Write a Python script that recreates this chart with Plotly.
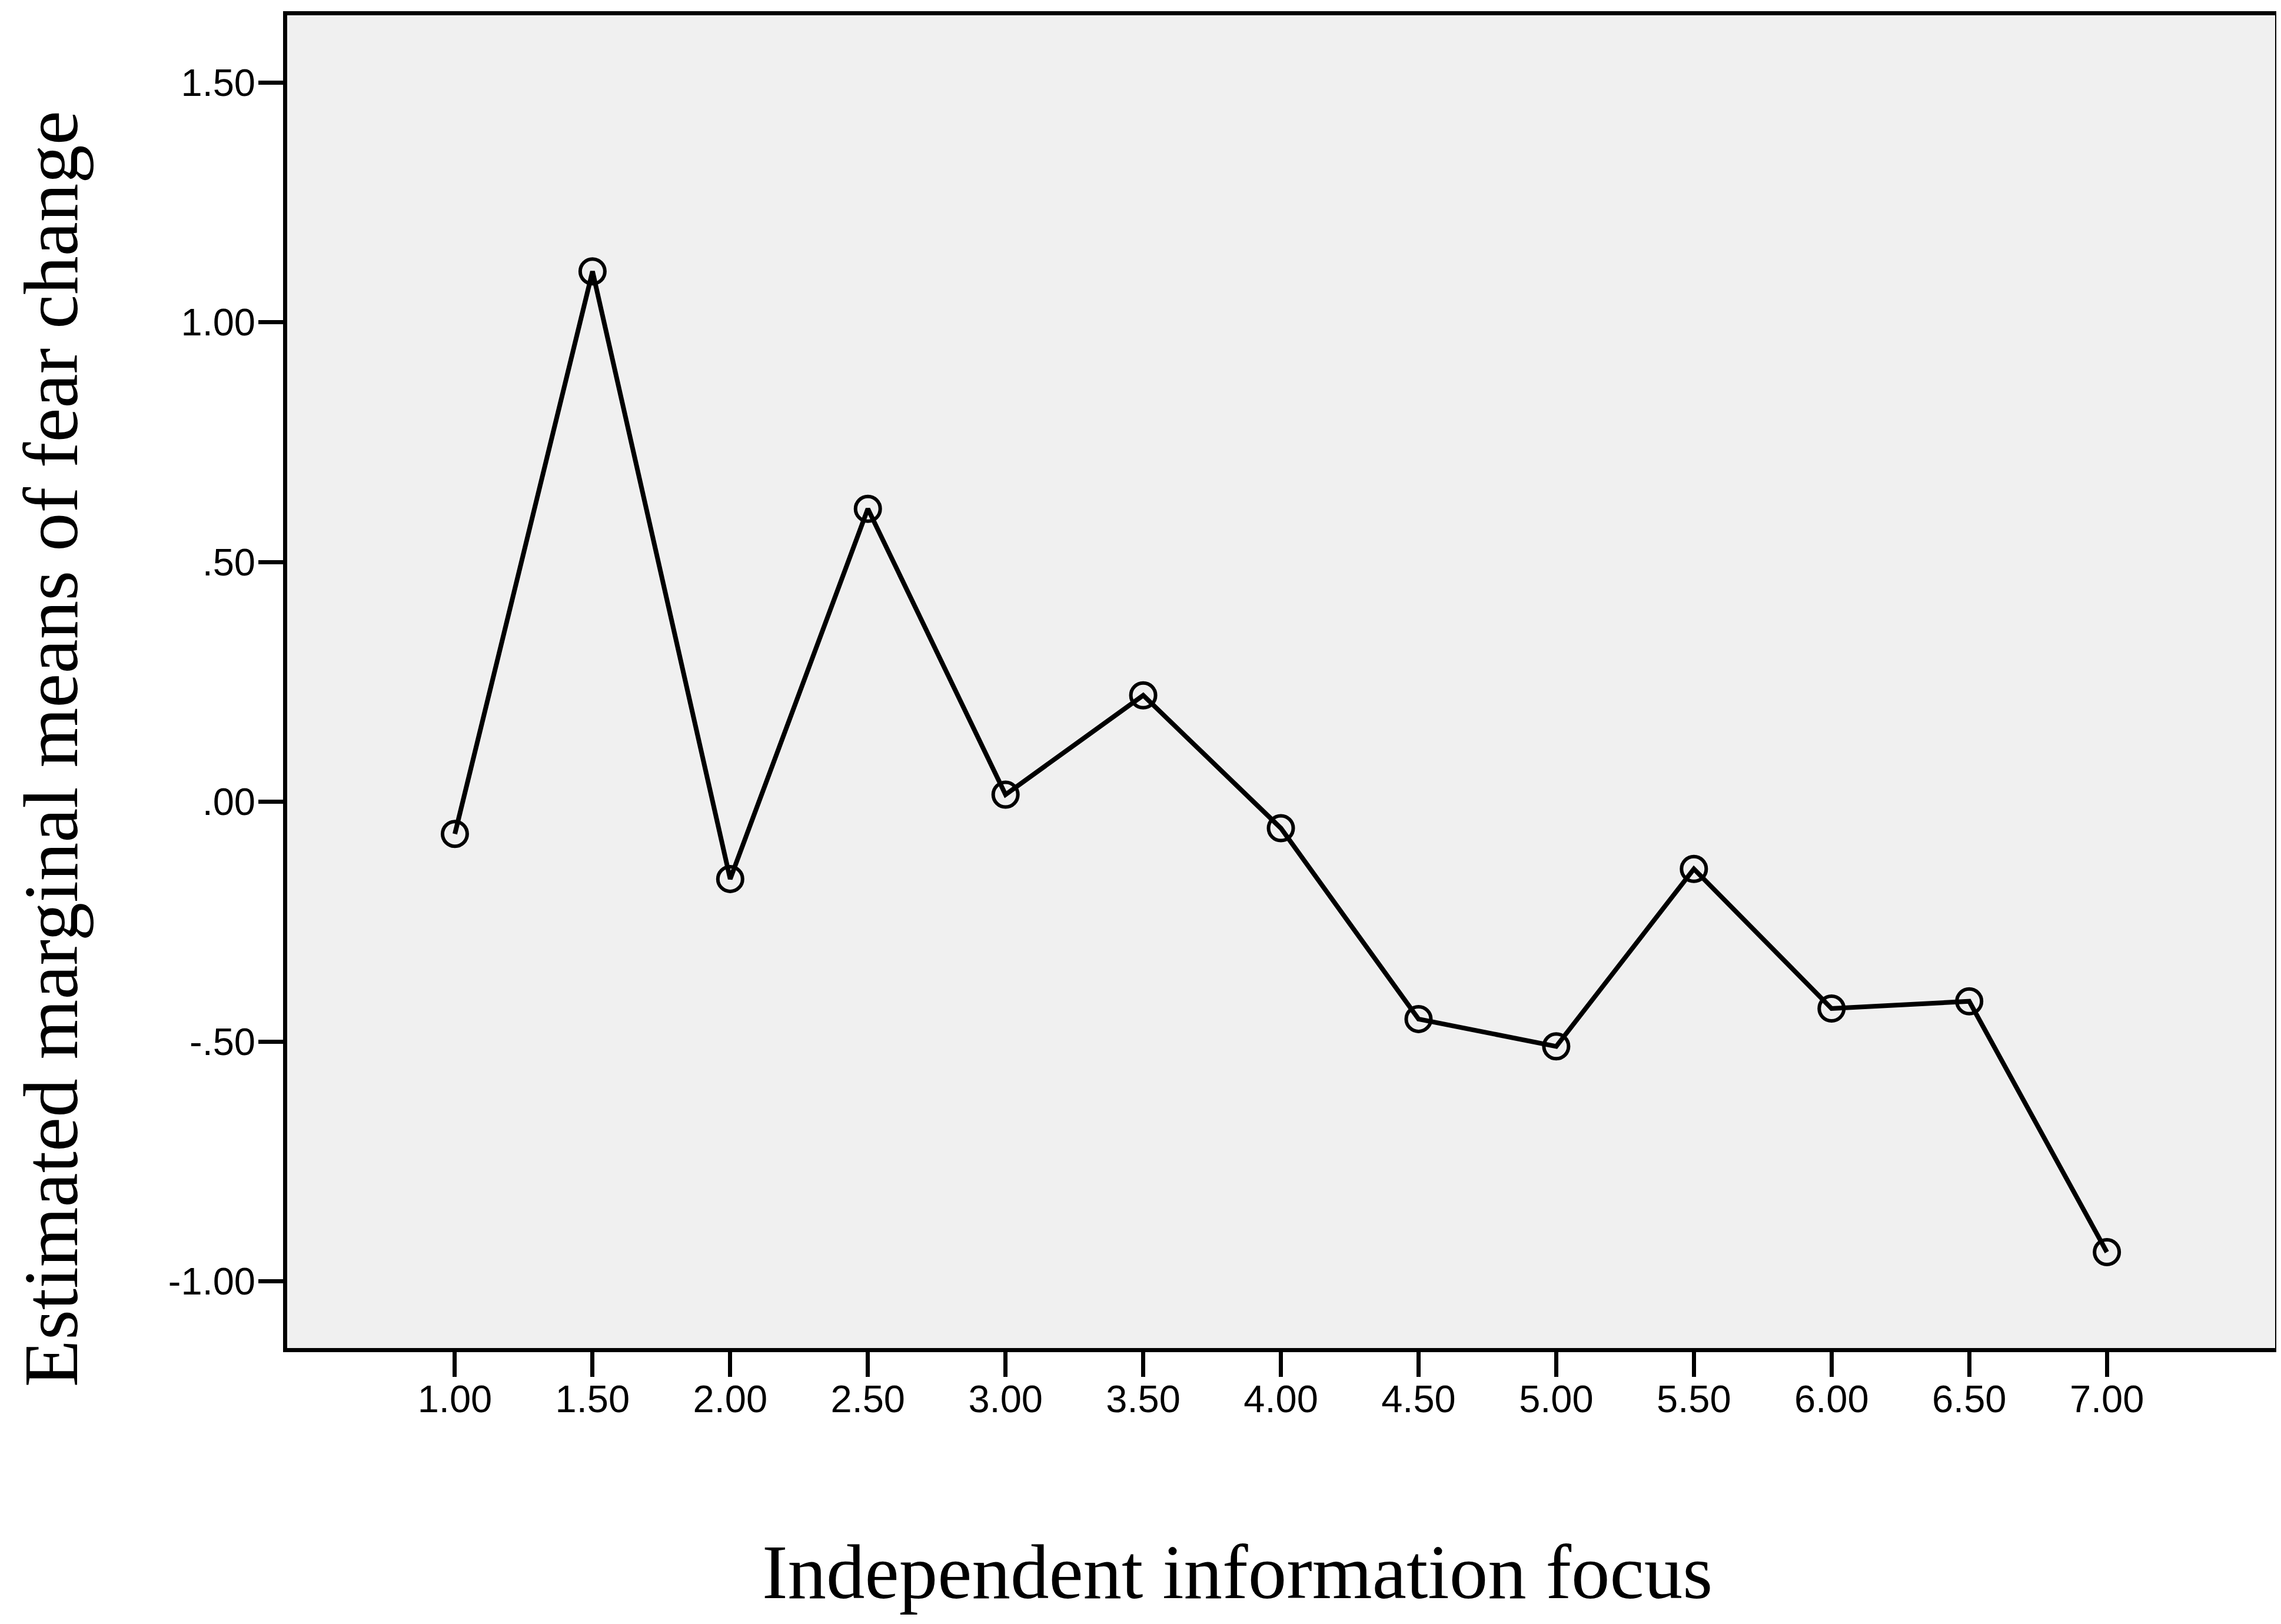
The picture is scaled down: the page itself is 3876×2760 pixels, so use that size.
import plotly.graph_objects as go

# Estimated marginal means of fear change by independent information focus
focus = [1.0, 1.5, 2.0, 2.5, 3.0, 3.5, 4.0, 4.5, 5.0, 5.5, 6.0, 6.5, 7.0]
fear_change = [-0.067, 1.106, -0.161, 0.611, 0.015, 0.222, -0.055,
               -0.453, -0.510, -0.140, -0.431, -0.416, -0.939]

x_ticks = [1.0, 1.5, 2.0, 2.5, 3.0, 3.5, 4.0, 4.5, 5.0, 5.5, 6.0, 6.5, 7.0]
y_ticks = [-1.0, -0.5, 0.0, 0.5, 1.0, 1.5]
y_tick_text = ["-1.00", "-.50", ".00", ".50", "1.00", "1.50"]

x_title = "Independent information focus"
y_title = "Estimated marginal means of fear change"

SERIF = "Liberation Serif, Times New Roman"

fig = go.Figure()
fig.add_trace(
    go.Scatter(
        x=focus,
        y=fear_change,
        mode="lines+markers",
        line=dict(color="black", width=8),
        marker=dict(symbol="circle-open", size=42, color="black", line=dict(width=6)),
        showlegend=False,
    )
)

axis_common = dict(
    showline=True,
    linecolor="black",
    linewidth=7,
    mirror=True,
    ticks="outside",
    ticklen=42,
    tickwidth=7,
    tickcolor="black",
    showgrid=False,
    zeroline=False,
    tickfont=dict(family="Liberation Sans, Arial", size=65, color="black"),
)

fig.update_xaxes(
    range=[0.391, 7.611],
    tickvals=x_ticks,
    ticktext=[f"{v:.2f}" for v in x_ticks],
    ticklabelstandoff=-18,
    **axis_common,
)
fig.update_yaxes(
    range=[-1.139, 1.640],
    tickvals=y_ticks,
    ticktext=y_tick_text,
    ticklabelstandoff=-8,
    **axis_common,
)

# axis titles as annotations so they sit where the original has them
fig.add_annotation(
    text=x_title, xref="paper", yref="paper", x=0.478, y=-0.168,
    xanchor="center", yanchor="middle", showarrow=False,
    font=dict(family=SERIF, size=131, color="black"),
)
fig.add_annotation(
    text=y_title, xref="paper", yref="paper", x=-0.119, y=0.4494,
    xanchor="center", yanchor="middle", textangle=-90, showarrow=False,
    font=dict(family=SERIF, size=131, color="black"),
)

fig.update_layout(
    width=3876,
    height=2760,
    margin=dict(l=480, r=18, t=18, b=477),
    plot_bgcolor="#f0f0f0",
    paper_bgcolor="white",
)

fig.write_html("out.html")
